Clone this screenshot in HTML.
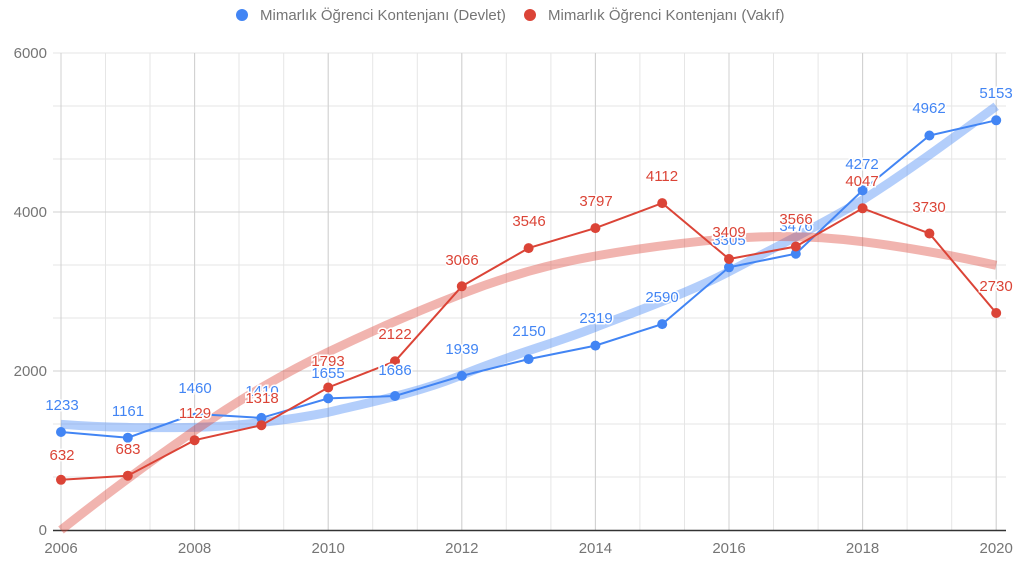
<!DOCTYPE html>
<html><head><meta charset="utf-8"><style>
html,body{margin:0;padding:0;background:#fff;width:1024px;height:574px;overflow:hidden}
text{font-family:"Liberation Sans",sans-serif}
.lb{font-size:15px;text-anchor:middle;paint-order:stroke;stroke:#fff;stroke-width:3px}
</style></head><body>
<svg width="1024" height="574" viewBox="0 0 1024 574" xmlns="http://www.w3.org/2000/svg">
<g stroke="#e6e6e6" stroke-width="1">
<line x1="53" x2="1006" y1="53" y2="53"/><line x1="53" x2="1006" y1="106" y2="106"/><line x1="53" x2="1006" y1="159" y2="159"/>
<line x1="53" x2="1006" y1="212" y2="212"/><line x1="53" x2="1006" y1="265" y2="265"/><line x1="53" x2="1006" y1="318" y2="318"/>
<line x1="53" x2="1006" y1="371" y2="371"/><line x1="53" x2="1006" y1="424" y2="424"/><line x1="53" x2="1006" y1="477" y2="477"/>
<line x1="61" x2="61" y1="53" y2="530"/><line x1="105.5" x2="105.5" y1="53" y2="530"/><line x1="150" x2="150" y1="53" y2="530"/>
<line x1="194.6" x2="194.6" y1="53" y2="530"/><line x1="239" x2="239" y1="53" y2="530"/><line x1="283.7" x2="283.7" y1="53" y2="530"/>
<line x1="328.2" x2="328.2" y1="53" y2="530"/><line x1="372.7" x2="372.7" y1="53" y2="530"/><line x1="417.3" x2="417.3" y1="53" y2="530"/>
<line x1="461.8" x2="461.8" y1="53" y2="530"/><line x1="506.3" x2="506.3" y1="53" y2="530"/><line x1="550.9" x2="550.9" y1="53" y2="530"/>
<line x1="595.4" x2="595.4" y1="53" y2="530"/><line x1="639.9" x2="639.9" y1="53" y2="530"/><line x1="684.5" x2="684.5" y1="53" y2="530"/>
<line x1="729" x2="729" y1="53" y2="530"/><line x1="773.5" x2="773.5" y1="53" y2="530"/><line x1="818.1" x2="818.1" y1="53" y2="530"/>
<line x1="862.6" x2="862.6" y1="53" y2="530"/><line x1="907.1" x2="907.1" y1="53" y2="530"/><line x1="951.7" x2="951.7" y1="53" y2="530"/>
<line x1="996.2" x2="996.2" y1="53" y2="530"/>
</g>
<g stroke="#d0d0d0"><line x1="61" x2="61" y1="53" y2="530"/><line x1="194.6" x2="194.6" y1="53" y2="530"/><line x1="328.2" x2="328.2" y1="53" y2="530"/><line x1="461.8" x2="461.8" y1="53" y2="530"/><line x1="595.4" x2="595.4" y1="53" y2="530"/><line x1="729" x2="729" y1="53" y2="530"/><line x1="862.6" x2="862.6" y1="53" y2="530"/><line x1="996.2" x2="996.2" y1="53" y2="530"/>
<line x1="53" x2="1006" y1="212" y2="212"/><line x1="53" x2="1006" y1="371" y2="371"/></g>
<line x1="53" x2="1006" y1="530.5" y2="530.5" stroke="#333" stroke-width="1.5"/>
<g font-size="15" fill="#757575" text-anchor="end">
<text x="47" y="58">6000</text><text x="47" y="217">4000</text><text x="47" y="376">2000</text><text x="47" y="535">0</text></g>
<g font-size="15" fill="#757575" text-anchor="middle">
<text x="61" y="553">2006</text><text x="194.6" y="553">2008</text><text x="328.2" y="553">2010</text><text x="461.8" y="553">2012</text><text x="595.4" y="553">2014</text><text x="729" y="553">2016</text><text x="862.6" y="553">2018</text><text x="996.2" y="553">2020</text></g>
<path d="M61,424.3 C110,428 150,428 194.6,427.4 C240,426 290,420 328.2,412.3 C380,400 420,392 461.8,375 C510,355 550,345 595.4,327.3 C640,310 690,292 729,271.6 C780,245 820,225 862.6,200 C910,170 950,140 996.2,106.3" fill="none" stroke="#4285f4" stroke-opacity="0.4" stroke-width="9"/>
<path d="M61,530 Q128,477 194.6,430.6 T328.2,352 T461.8,293.8 T595.4,256 T729,238.7 T862.6,241.7 T996.2,265.3" fill="none" stroke="#db4437" stroke-opacity="0.4" stroke-width="9"/>
<polyline fill="none" stroke="#4285f4" stroke-width="2" points="61,432 127.8,437.7 194.6,413.9 261.4,417.9 328.2,398.4 395,396 461.8,375.9 528.6,359.1 595.4,345.6 662.2,324.1 729,267.3 795.8,253.7 862.6,190.4 929.4,135.5 996.2,120.3"/>
<polyline fill="none" stroke="#db4437" stroke-width="2" points="61,479.8 127.8,475.7 194.6,440.2 261.4,425.2 328.2,387.5 395,361.3 461.8,286.3 528.6,248.1 595.4,228.1 662.2,203.1 729,259 795.8,246.5 862.6,208.3 929.4,233.5 996.2,313"/>
<g fill="#4285f4"><circle cx="61" cy="432" r="5"/><circle cx="127.8" cy="437.7" r="5"/><circle cx="261.4" cy="417.9" r="5"/><circle cx="328.2" cy="398.4" r="5"/><circle cx="395" cy="396" r="5"/><circle cx="461.8" cy="375.9" r="5"/><circle cx="528.6" cy="359.1" r="5"/><circle cx="595.4" cy="345.6" r="5"/><circle cx="662.2" cy="324.1" r="5"/><circle cx="729" cy="267.3" r="5"/><circle cx="795.8" cy="253.7" r="5"/><circle cx="862.6" cy="190.4" r="5"/><circle cx="929.4" cy="135.5" r="5"/><circle cx="996.2" cy="120.3" r="5"/></g>
<g fill="#db4437"><circle cx="61" cy="479.8" r="5"/><circle cx="127.8" cy="475.7" r="5"/><circle cx="194.6" cy="440.2" r="5"/><circle cx="261.4" cy="425.2" r="5"/><circle cx="328.2" cy="387.5" r="5"/><circle cx="395" cy="361.3" r="5"/><circle cx="461.8" cy="286.3" r="5"/><circle cx="528.6" cy="248.1" r="5"/><circle cx="595.4" cy="228.1" r="5"/><circle cx="662.2" cy="203.1" r="5"/><circle cx="729" cy="259" r="5"/><circle cx="795.8" cy="246.5" r="5"/><circle cx="862.6" cy="208.3" r="5"/><circle cx="929.4" cy="233.5" r="5"/><circle cx="996.2" cy="313" r="5"/></g>
<g class="lb" fill="#4285f4">
<text x="62" y="410">1233</text><text x="128" y="416">1161</text><text x="195" y="393">1460</text><text x="262" y="396">1410</text><text x="328" y="378">1655</text><text x="395" y="375">1686</text><text x="462" y="354">1939</text><text x="529" y="336">2150</text><text x="596" y="323">2319</text><text x="662" y="302">2590</text><text x="729" y="245">3305</text><text x="796" y="231">3476</text><text x="862" y="169">4272</text><text x="929" y="113">4962</text><text x="996" y="98">5153</text></g>
<g class="lb" fill="#db4437">
<text x="62" y="460">632</text><text x="128" y="454">683</text><text x="195" y="418">1129</text><text x="262" y="403">1318</text><text x="328" y="366">1793</text><text x="395" y="339">2122</text><text x="462" y="265">3066</text><text x="529" y="226">3546</text><text x="596" y="206">3797</text><text x="662" y="181">4112</text><text x="729" y="237">3409</text><text x="796" y="224">3566</text><text x="862" y="186">4047</text><text x="929" y="212">3730</text><text x="996" y="291">2730</text></g>
<circle cx="242" cy="15" r="6" fill="#4285f4"/>
<text x="260" y="20" font-size="15" fill="#757575">Mimarlık Öğrenci Kontenjanı (Devlet)</text>
<circle cx="530" cy="15" r="6" fill="#db4437"/>
<text x="548" y="20" font-size="15" fill="#757575">Mimarlık Öğrenci Kontenjanı (Vakıf)</text>
</svg>
</body></html>
